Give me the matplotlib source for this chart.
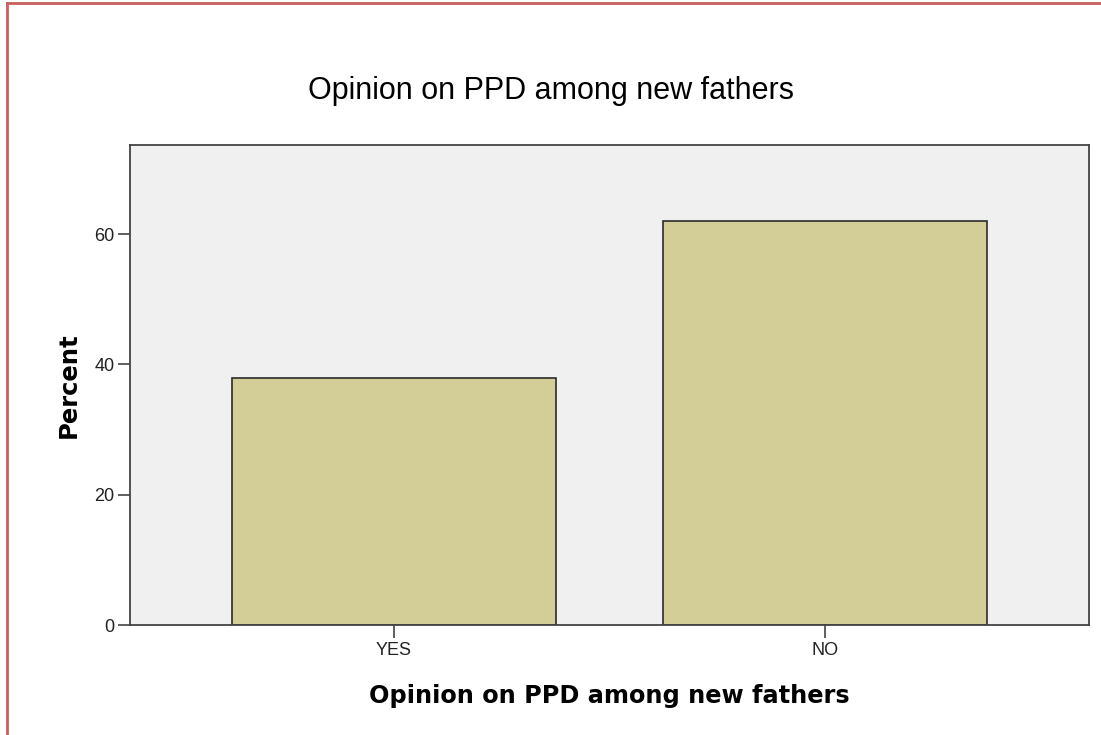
import numpy as np
import matplotlib.pyplot as plt

categories = ["YES", "NO"]
percent = [38, 62]
yticks = [0, 20, 40, 60]

fig = plt.figure(figsize=(11.01, 7.35), dpi=100)
ax = fig.add_axes([130/1101, 1-625/735, (1089-130)/1101, (625-145)/735])

ax.set_facecolor("#f0f0f0")
x = np.arange(len(categories))
ax.bar(x, percent, width=0.75, color="#d3ce97", edgecolor="#2b2b2b", linewidth=1.2, zorder=2)

ax.set_xlim(-0.61, 1.61)
ax.set_ylim(0, 73.7)
ax.set_xticks(x)
ax.set_xticklabels(categories, fontsize=13, family="Liberation Sans", color="#222222")
ax.set_yticks(yticks)
ax.set_yticklabels([str(t) for t in yticks], fontsize=13, family="Liberation Sans", color="#222222")
ax.tick_params(axis="both", length=9, width=1.2, color="#444444")
ax.tick_params(axis="x", pad=3)
ax.tick_params(axis="y", pad=2)

for s in ax.spines.values():
    s.set_linewidth(1.3)
    s.set_color("#444444")

ax.set_ylabel("Percent", fontsize=17.5, fontweight="bold", family="DejaVu Sans", labelpad=10)
ax.set_xlabel("Opinion on PPD among new fathers", fontsize=17.3, fontweight="bold",
              family="DejaVu Sans", labelpad=18)
fig.text(0.5, 1-91/735, "Opinion on PPD among new fathers", ha="center", va="center",
         fontsize=22, family="Liberation Sans")

# red frame on the left and top edges
fig.add_artist(plt.Line2D([7/1101, 7/1101], [0, 1-3/735], transform=fig.transFigure,
                          color="#c9605c", lw=2))
fig.add_artist(plt.Line2D([7/1101, 1], [1-3/735, 1-3/735], transform=fig.transFigure,
                          color="#c9605c", lw=2))

fig.savefig("out.png", dpi=100)
